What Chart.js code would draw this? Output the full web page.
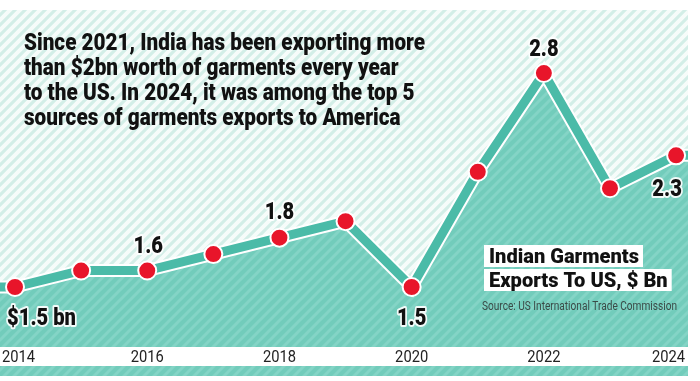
<!DOCTYPE html>
<html><head><meta charset="utf-8">
<script src="https://cdn.jsdelivr.net/npm/chart.js@4/dist/chart.umd.min.js"></script>
<style>html,body{margin:0;padding:0;background:#fff}#wrap{width:700px;height:381px;position:relative}canvas{display:block}</style>
</head><body><div id="wrap"><canvas id="c" width="700" height="381" style="width:700px;height:381px"></canvas></div>
<script>
// ---- data ----
const years = [2014, 2015, 2016, 2017, 2018, 2019, 2020, 2021, 2022, 2023, 2024];
const exportsBn = [1.5, 1.6, 1.6, 1.7, 1.8, 1.9, 1.5, 2.2, 2.8, 2.1, 2.3];
const tickYears = [2014, 2016, 2018, 2020, 2022, 2024];
const tickLabels = ['2014', '2016', '2018', '2020', '2022', '2024'];
const labelYears = [2014, 2016, 2018, 2020, 2022, 2024];
const labelTexts = ['$1.5 bn', '1.6', '1.8', '1.5', '2.8', '2.3'];
const titleLines = [
  'Since 2021, India has been exporting more',
  'than $2bn worth of garments every year',
  'to the US. In 2024, it was among the top 5',
  'sources of garments exports to America'
];
const legendLines = ['Indian Garments', 'Exports To US, $ Bn'];
const sourceText = 'Source: US International Trade Commission';

// ---- styles ----
function makePattern(base, stripe, w) {
  const t = document.createElement('canvas');
  t.width = 10; t.height = 10;
  const g = t.getContext('2d');
  g.fillStyle = base; g.fillRect(0, 0, 10, 10);
  g.strokeStyle = stripe; g.lineWidth = w;
  g.beginPath();
  for (const o of [-10, 0, 10]) { g.moveTo(o - 5, 15); g.lineTo(o + 15, -5); }
  g.stroke();
  return g.createPattern(t, 'repeat');
}
const mintPat = makePattern('#d3eee7', '#f6fcfa', 4);
const tealPat = makePattern('#72ccbb', '#84d4c6', 3);
const FONT = 'Roboto, "Liberation Sans", sans-serif';
const HEAVY = '900';
const LINE_TEAL = '#4bbba8';

function drawText(ctx, text, x, y, size, weight, align, sx, color, halo) {
  ctx.save();
  ctx.font = weight + ' ' + size + 'px ' + FONT;
  ctx.textBaseline = 'alphabetic';
  ctx.textAlign = align;
  ctx.translate(x, y);
  ctx.scale(sx, 1);
  if (halo) {
    ctx.lineJoin = 'round';
    ctx.strokeStyle = 'rgba(255,255,255,0.9)';
    ctx.lineWidth = halo;
    ctx.strokeText(text, 0, 0);
  }
  ctx.fillStyle = color;
  ctx.fillText(text, 0, 0);
  ctx.restore();
}
function textW(ctx, text, size, weight) {
  ctx.save(); ctx.font = weight + ' ' + size + 'px ' + FONT;
  const w = ctx.measureText(text).width; ctx.restore(); return w;
}

const decor = {
  id: 'decor',
  beforeDraw(chart) {
    const ctx = chart.ctx, a = chart.chartArea;
    ctx.save();
    ctx.fillStyle = '#fff'; ctx.fillRect(0, 0, chart.width, chart.height);
    ctx.fillStyle = mintPat; ctx.fillRect(a.left, a.top, a.right - a.left, a.bottom - a.top);
    ctx.fillStyle = tealPat; ctx.fillRect(a.left, a.bottom + 19, a.right - a.left, 10);
    ctx.restore();
  },
  beforeDatasetsDraw(chart) {
    const ctx = chart.ctx, a = chart.chartArea, xs = chart.scales.x, ys = chart.scales.y;
    const x0 = xs.getPixelForValue(years[0]), y0 = ys.getPixelForValue(exportsBn[0]);
    const x1 = xs.getPixelForValue(years[years.length - 1]), y1 = ys.getPixelForValue(exportsBn[exportsBn.length - 1]);
    ctx.save();
    ctx.fillStyle = tealPat;
    ctx.fillRect(a.left, y0, x0 - a.left + 1, a.bottom - y0);
    ctx.fillRect(x1 - 1, y1, a.right - x1 + 1, a.bottom - y1);
    ctx.strokeStyle = '#ffffff'; ctx.lineWidth = 13;
    ctx.beginPath(); ctx.moveTo(a.left, y0); ctx.lineTo(x0, y0); ctx.moveTo(x1, y1); ctx.lineTo(a.right, y1); ctx.stroke();
    ctx.strokeStyle = LINE_TEAL; ctx.lineWidth = 9;
    ctx.beginPath(); ctx.moveTo(a.left, y0); ctx.lineTo(x0, y0); ctx.moveTo(x1, y1); ctx.lineTo(a.right, y1); ctx.stroke();
    ctx.restore();
  },
  afterDraw(chart) {
    const ctx = chart.ctx, a = chart.chartArea, xs = chart.scales.x, ys = chart.scales.y;
    ctx.save();
    ctx.font = '16px ' + FONT;
    tickYears.forEach((yr, i) => {
      const w = ctx.measureText(tickLabels[i]).width * 0.92;
      let cx = xs.getPixelForValue(yr);
      cx = Math.max(a.left + 2 + w / 2, Math.min(a.right - 3 - w / 2, cx));
      drawText(ctx, tickLabels[i], cx, a.bottom + 15, 16, 'normal', 'center', 0.92, '#222', 0);
    });
    ctx.restore();
    const place = { 2014: [-8, 38, 'left'], 2016: [1, -18, 'center'], 2018: [0, -19, 'center'],
                    2020: [0, 38, 'center'], 2022: [0, -17, 'center'], 2024: [-9, 41, 'center'] };
    labelYears.forEach((yr, i) => {
      const v = exportsBn[years.indexOf(yr)];
      const px = xs.getPixelForValue(yr), py = ys.getPixelForValue(v);
      const p = place[yr];
      drawText(ctx, labelTexts[i], px + p[0], py + p[1], 24, HEAVY, p[2], 0.84, '#111', 4);
    });
    const tsx = 401 / textW(ctx, titleLines[0], 24, HEAVY);
    titleLines.forEach((t, i) => drawText(ctx, t, 24, 50 + i * 25, 24, HEAVY, 'left', tsx, '#111', 0));
    const lsize = 21, lsx = 150 / textW(ctx, legendLines[0], 21, HEAVY);
    legendLines.forEach((t, i) => {
      const w = textW(ctx, t, lsize, HEAVY) * lsx;
      const top = 245 + i * 24;
      ctx.save(); ctx.fillStyle = '#fff'; ctx.fillRect(484, top, w + 9, 22); ctx.restore();
      drawText(ctx, t, 489, top + 18, lsize, HEAVY, 'left', lsx, '#111', 0);
    });
    const ssx = 195 / textW(ctx, sourceText, 12, 'normal');
    drawText(ctx, sourceText, 482, 310, 12, 'normal', 'left', ssx, '#3a4a47', 0);
  }
};

new Chart(document.getElementById('c'), {
  type: 'line',
  data: {
    datasets: [
      {
        label: 'outline',
        data: years.map((y, i) => ({ x: y, y: exportsBn[i] })),
        borderColor: '#ffffff', borderWidth: 13, pointRadius: 0,
        fill: 'start', backgroundColor: tealPat, tension: 0, order: 2
      },
      {
        label: 'Indian Garments Exports To US, $ Bn',
        data: years.map((y, i) => ({ x: y, y: exportsBn[i] })),
        borderColor: LINE_TEAL, borderWidth: 9, fill: false, tension: 0,
        pointRadius: 9, pointBackgroundColor: '#e8152a', pointBorderColor: '#ffffff', pointBorderWidth: 2,
        order: 1
      }
    ]
  },
  options: {
    responsive: false, animation: false, devicePixelRatio: 1,
    layout: { autoPadding: false, padding: { top: 10, right: 12, left: 0, bottom: 0 } },
    plugins: { legend: { display: false }, tooltip: { enabled: false } },
    scales: {
      x: {
        type: 'linear', min: 2013.773, max: 2024.18,
        grid: { display: false }, border: { display: false },
        ticks: { display: false },
        afterFit(s) { s.height = 34; }
      },
      y: { display: false, min: 1.1355, max: 3.183 }
    }
  },
  plugins: [decor]
});
</script>
</body></html>
